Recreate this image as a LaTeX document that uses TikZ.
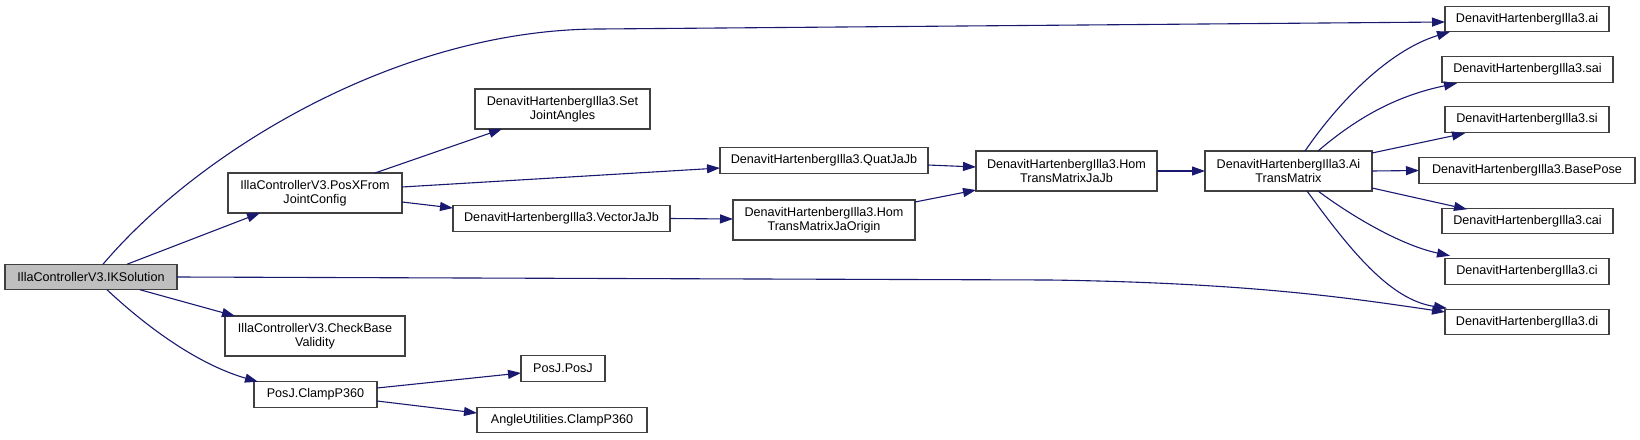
\documentclass[tikz,border=0pt]{standalone}
\usepackage{fontspec}
\setmainfont{Liberation Sans}
\usetikzlibrary{arrows.meta,calc}
\definecolor{edgeblue}{HTML}{191970}
\definecolor{boxline}{HTML}{404040}
\definecolor{boxgray}{HTML}{BFBFBF}
\tikzset{
  box/.style={draw=boxline, line width=1.2pt, rectangle, inner sep=0pt, outer sep=0pt,
    align=center, font=\fontsize{12.6}{14}\selectfont, fill=white},
  one/.style={minimum height=25.5pt},
  two/.style={minimum height=40pt},
  link/.style={draw=edgeblue, line width=1.1pt, -{Triangle[length=13pt,width=9pt]}},
}
\begin{document}
\begin{tikzpicture}[x=1pt,y=-1pt]
\useasboundingbox (0,0) rectangle (1640,439);
% nodes
\node[box,one,fill=boxgray,minimum width=172pt] (ik) at (91,277) {IllaControllerV3.IKSolution};
\node[box,two,minimum width=174pt] (posx) at (315,193) {IllaControllerV3.PosXFrom\\JointConfig};
\node[box,two,minimum width=175pt] (setj) at (562.5,109) {DenavitHartenbergIlla3.Set\\JointAngles};
\node[box,one,minimum width=217pt] (vec) at (561.5,218.5) {DenavitHartenbergIlla3.VectorJaJb};
\node[box,one,minimum width=208pt] (quat) at (824,160.5) {DenavitHartenbergIlla3.QuatJaJb};
\node[box,two,minimum width=181pt] (homab) at (1066.5,171) {DenavitHartenbergIlla3.Hom\\TransMatrixJaJb};
\node[box,two,minimum width=182pt] (homo) at (824,220) {DenavitHartenbergIlla3.Hom\\TransMatrixJaOrigin};
\node[box,two,minimum width=167pt] (ait) at (1288.5,171) {DenavitHartenbergIlla3.Ai\\TransMatrix};
\node[box,one,minimum width=164pt] (ai) at (1527,19) {DenavitHartenbergIlla3.ai};
\node[box,one,minimum width=171pt] (sai) at (1527.5,69.5) {DenavitHartenbergIlla3.sai};
\node[box,one,minimum width=164pt] (si) at (1527,119.5) {DenavitHartenbergIlla3.si};
\node[box,one,minimum width=216pt] (base) at (1527,170.5) {DenavitHartenbergIlla3.BasePose};
\node[box,one,minimum width=171pt] (cai) at (1527.5,221) {DenavitHartenbergIlla3.cai};
\node[box,one,minimum width=164pt] (ci) at (1527,271.5) {DenavitHartenbergIlla3.ci};
\node[box,one,minimum width=164pt] (di) at (1527,322) {DenavitHartenbergIlla3.di};
\node[box,two,minimum width=180pt] (check) at (315,336) {IllaControllerV3.CheckBase\\Validity};
\node[box,one,minimum width=123pt] (clamp) at (315.5,394.5) {PosJ.ClampP360};
\node[box,one,minimum width=84pt] (posj) at (563,368.5) {PosJ.PosJ};
\node[box,one,minimum width=170pt] (angle) at (562,420) {AngleUtilities.ClampP360};
% edges
\draw[link] ($(ik.north west)+(98,0)$) .. controls (200,150) and (400,29) .. (600,29) -- ($(ai.west)+(0,3)$);
\draw[link] ($(ik.north west)+(122,0)$) -- ($(posx.south west)+(32,0)$);
\draw[link] (ik.east) -- (1050,280) .. controls (1250,283) and (1350,298) .. ($(di.west)+(0,-10)$);
\draw[link] ($(ik.south west)+(135,0)$) -- ($(check.north west)+(10,0)$);
\draw[link] ($(ik.south west)+(102,0)$) .. controls (150,330) and (200,365) .. ($(clamp.north west)+(4,0)$);
\draw[link] ($(posx.north west)+(147,0)$) -- ($(setj.south west)+(27,0)$);
\draw[link] ($(posx.east)+(0,-6)$) -- ($(quat.west)+(0,7.5)$);
\draw[link] ($(posx.east)+(0,9)$) -- ($(vec.west)+(0,-10.5)$);
\draw[link] (vec.east) -- ($(homo.west)+(0,-1)$);
\draw[link] ($(quat.east)+(0,4.5)$) -- ($(homab.west)+(0,-4)$);
\draw[link] ($(homo.north east)+(0,2)$) -- ($(homab.south west)+(0,-1)$);
\draw[link] (homab.east) -- (ait.west);
\draw[link] ($(ait.north west)+(100,0)$) .. controls (1340,100) and (1390,50) .. ($(ai.south west)+(5,0)$);
\draw[link] ($(ait.north west)+(113,0)$) .. controls (1360,115) and (1400,95) .. ($(sai.south west)+(15,1)$);
\draw[link] ($(ait.north east)+(0,2)$) -- ($(si.south west)+(20,1)$);
\draw[link] (ait.east) -- (base.west);
\draw[link] ($(ait.south east)+(0,-3)$) -- ($(cai.north west)+(25,1)$);
\draw[link] ($(ait.south west)+(113,0)$) .. controls (1350,215) and (1400,245) .. ($(ci.north west)+(5,-3)$);
\draw[link] ($(ait.south west)+(102,0)$) .. controls (1350,250) and (1390,300) .. ($(di.north west)+(2,-1)$);
\draw[link] ($(clamp.east)+(0,-6.5)$) -- ($(posj.west)+(0,4.5)$);
\draw[link] ($(clamp.east)+(0,6.5)$) -- ($(angle.west)+(0,-7)$);
\end{tikzpicture}
\end{document}
